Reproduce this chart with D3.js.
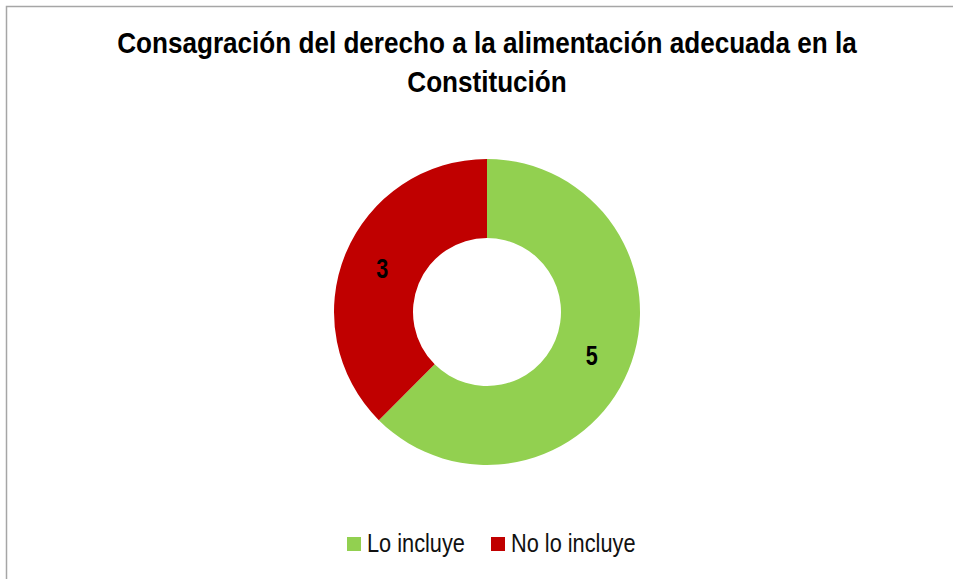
<!DOCTYPE html>
<html>
<head>
<meta charset="utf-8">
<script src="https://cdn.jsdelivr.net/npm/d3@7"></script>
<style>
  body { margin: 0; background: #fff; }
  svg text { font-family: "Liberation Sans Narrow", "Arial Narrow", "Liberation Sans", sans-serif; }
</style>
</head>
<body>
<script>
const categories = ['Lo incluye', 'No lo incluye']
const values = [5, 3]
const colors = ['#92D050', '#C00000']
const titleLines = ['Consagración del derecho a la alimentación adecuada en la', 'Constitución']

const width = 953, height = 579
const cx = 487, cy = 312, outerR = 153, innerR = 74
const narrow = 0.87 // no narrow font installed, squeeze the regular one

const svg = d3.select('body')
  .append('svg')
  .attr('width', width)
  .attr('height', height)

// chart area border (only top/left visible in the crop)
svg.append('rect')
  .attr('x', 6.5)
  .attr('y', 6.5)
  .attr('width', 1000)
  .attr('height', 1000)
  .attr('fill', '#fff')
  .attr('stroke', '#a6a6a6')
  .attr('stroke-width', 1.5)

svg.append('g')
  .attr('transform', `translate(${cx}, 0) scale(${narrow}, 1)`)
  .selectAll('text')
  .data(titleLines)
  .enter()
  .append('text')
  .attr('x', 0)
  .attr('y', (d, i) => 53 + i * 39)
  .attr('text-anchor', 'middle')
  .style('font-size', '30px')
  .style('font-weight', 'bold')
  .text(d => d)

const pie = d3.pie().sort(null).value(d => d)
const arc = d3.arc().innerRadius(innerR).outerRadius(outerR)

const slices = svg.append('g')
  .attr('transform', `translate(${cx}, ${cy})`)
  .selectAll('g')
  .data(pie(values))
  .enter()
  .append('g')

slices.append('path')
  .attr('d', arc)
  .attr('fill', (d, i) => colors[i])

slices.append('text')
  .attr('transform', d => `translate(${arc.centroid(d)}) scale(0.8, 1)`)
  .attr('text-anchor', 'middle')
  .attr('dy', '0.36em')
  .style('font-size', '27px')
  .style('font-weight', 'bold')
  .text(d => d.data)

// legend
const legendX = [347, 491]
const legend = svg.append('g')
  .selectAll('g')
  .data(categories)
  .enter()
  .append('g')
  .attr('transform', (d, i) => `translate(${legendX[i]}, 537)`)

legend.append('rect')
  .attr('width', 14)
  .attr('height', 14)
  .attr('fill', (d, i) => colors[i])

legend.append('text')
  .attr('transform', `translate(20, 15) scale(${narrow}, 1)`)
  .style('font-size', '25px')
  .attr('fill', '#111')
  .text(d => d)
</script>
</body>
</html>
